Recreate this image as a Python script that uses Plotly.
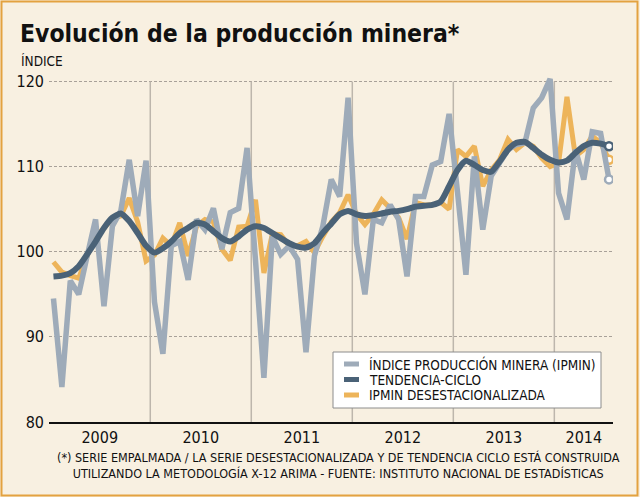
import plotly.graph_objects as go

# ---------------- data ----------------
years = ["2009", "2010", "2011", "2012", "2013", "2014"]
year_centers = [5.5, 17.5, 29.5, 41.5, 53.5, 63.0]      # month index at centre of each year's data
year_breaks = [11.5, 23.5, 35.5, 47.5, 59.5]
months = [f"{y}-{m:02d}" for y in range(2009, 2015) for m in range(1, 13)][:67]

ipmin = [94.5, 84.1, 96.6, 95.0, 99.5, 103.8, 93.6, 103.0, 104.8, 110.8, 104.2, 110.7,
         94.1, 88.0, 100.7, 101.2, 96.7, 103.8, 102.6, 105.1, 100.3, 104.6, 105.1, 112.2,
         99.0, 85.2, 101.8, 99.7, 100.7, 99.1, 88.2, 99.5, 103.0, 108.5, 106.5, 118.1,
         101.0, 95.0, 103.8, 103.4, 105.5, 103.8, 97.1, 106.5, 106.5, 110.2, 110.6, 116.2,
         107.0, 97.3, 111.2, 102.6, 108.9, 110.4, 112.0, 112.6, 112.8, 116.9, 118.1, 120.3,
         106.9, 103.8, 112.0, 108.5, 114.1, 113.9, 108.5]

tendencia = [97.1, 97.2, 97.5, 98.3, 99.7, 101.2, 102.8, 104.0, 104.5, 103.6, 102.2, 100.7,
             99.9, 100.4, 101.2, 102.2, 102.8, 103.4, 103.2, 102.4, 101.6, 101.2, 101.8, 102.6,
             103.0, 102.8, 102.2, 101.6, 101.0, 100.6, 100.5, 101.0, 102.2, 103.3, 104.4, 104.8,
             104.4, 104.2, 104.3, 104.5, 104.7, 104.8, 105.0, 105.3, 105.4, 105.5, 105.9, 107.7,
             109.6, 110.7, 110.2, 109.6, 109.4, 110.6, 112.0, 112.8, 112.9, 112.2, 111.4, 110.8,
             110.5, 110.7, 111.6, 112.4, 112.8, 112.7, 112.4]

desest = [98.8, 97.6, 97.2, 96.9, 99.5, 101.8, 102.8, 103.9, 104.2, 106.3, 103.5, 98.9,
          99.6, 101.6, 100.7, 103.4, 99.5, 103.0, 103.8, 103.5, 100.3, 99.0, 102.9, 103.0,
          106.1, 97.5, 102.1, 102.0, 100.7, 100.7, 101.2, 99.9, 101.8, 103.5, 104.6, 106.7,
          104.4, 103.2, 104.4, 106.1, 105.1, 104.0, 101.5, 105.8, 105.5, 105.5, 105.8, 105.0,
          112.0, 111.2, 112.4, 107.7, 109.6, 110.8, 113.2, 112.0, 112.8, 112.4, 111.0, 110.0,
          110.4, 118.2, 111.2, 112.0, 113.6, 112.8, 110.8]

names = ["ÍNDICE PRODUCCIÓN MINERA (IPMIN)", "TENDENCIA-CICLO", "IPMIN DESESTACIONALIZADA"]

# ---------------- style ----------------
BG = "#F8F0E1"
FRAME = "#E3A240"
C_GRAY = "#9EABB9"
C_DARK = "#4A6277"
C_ORANGE = "#EDB45A"
FONT = "DejaVu Sans Condensed, Tahoma, Verdana, sans-serif"

W, H = 640, 497
L, R, T, B = 49, 27, 73, 75
pw, ph = W - L - R, H - T - B


def xp(px):
    return (px - L) / pw


def yp(py):
    return (H - B - py) / ph


x = list(range(len(months)))

fig = go.Figure()

fig.add_trace(go.Scatter(x=x, y=desest, mode="lines", name=names[2],
                         line=dict(color=C_ORANGE, width=5), customdata=months,
                         showlegend=False))
fig.add_trace(go.Scatter(x=x[-1:], y=desest[-1:], mode="markers", showlegend=False,
                         marker=dict(size=8, color="white", line=dict(color=C_ORANGE, width=2.5))))
fig.add_trace(go.Scatter(x=x, y=ipmin, mode="lines", name=names[0],
                         line=dict(color=C_GRAY, width=5.5), customdata=months,
                         showlegend=False))
fig.add_trace(go.Scatter(x=x[-1:], y=ipmin[-1:], mode="markers", showlegend=False,
                         marker=dict(size=8, color="white", line=dict(color=C_GRAY, width=2.5))))
fig.add_trace(go.Scatter(x=x, y=tendencia, mode="lines", name=names[1],
                         line=dict(color=C_DARK, width=6, shape="spline", smoothing=0.6),
                         customdata=months, showlegend=False))
fig.add_trace(go.Scatter(x=x[-1:], y=tendencia[-1:], mode="markers", showlegend=False,
                         marker=dict(size=8, color="white", line=dict(color=C_DARK, width=2.5))))

shapes = []
# year separators
for xb in year_breaks:
    shapes.append(dict(type="line", xref="x", yref="y", x0=xb, x1=xb, y0=80, y1=120,
                       line=dict(color="#BDB6AC", width=1.5), layer="between"))
# outer frame
shapes.append(dict(type="rect", xref="paper", yref="paper",
                   x0=xp(1.5), x1=xp(637.5), y0=yp(495.5), y1=yp(1.5),
                   line=dict(color=FRAME, width=2), layer="below"))
# legend box
shapes.append(dict(type="rect", xref="paper", yref="paper",
                   x0=xp(333), x1=xp(601), y0=yp(408), y1=yp(352),
                   fillcolor="white", line=dict(color="#8C8C8C", width=1), layer="above"))
leg_rows = [364, 379.5, 395]
leg_cols = [C_GRAY, C_DARK, C_ORANGE]
annotations = []
for ry, col, nm in zip(leg_rows, leg_cols, names):
    shapes.append(dict(type="line", xref="paper", yref="paper",
                       x0=xp(344), x1=xp(359), y0=yp(ry), y1=yp(ry),
                       line=dict(color=col, width=5), layer="above"))
    annotations.append(dict(text=nm, xref="paper", yref="paper", x=xp(367), y=yp(ry),
                            xanchor="left", yanchor="middle", showarrow=False,
                            font=dict(family=FONT, size=13.5, color="#111")))

# title and subtitle
annotations.append(dict(text="<b>Evolución de la producción minera*</b>", xref="paper", yref="paper",
                        x=xp(18), y=yp(33), xanchor="left", yanchor="middle", showarrow=False,
                        font=dict(family=FONT, size=24.5, color="#111")))
annotations.append(dict(text="ÍNDICE", xref="paper", yref="paper",
                        x=xp(19), y=yp(61), xanchor="left", yanchor="middle", showarrow=False,
                        font=dict(family=FONT, size=13.5, color="#111")))
# footnote
annotations.append(dict(text="(*) SERIE EMPALMADA / LA SERIE DESESTACIONALIZADA Y DE TENDENCIA CICLO ESTÁ CONSTRUIDA<br>"
                             "UTILIZANDO LA METODOLOGÍA X-12 ARIMA - FUENTE: INSTITUTO NACIONAL DE ESTADÍSTICAS",
                        xref="paper", yref="paper", x=xp(338), y=yp(465), xanchor="center", yanchor="middle",
                        align="center", showarrow=False,
                        font=dict(family=FONT, size=12.5, color="#111")))

fig.update_layout(
    width=W, height=H,
    margin=dict(l=L, r=R, t=T, b=B, pad=0),
    paper_bgcolor=BG, plot_bgcolor=BG,
    showlegend=False,
    shapes=shapes, annotations=annotations,
    xaxis=dict(range=[-0.53, 66.47], tickmode="array", tickvals=year_centers, ticktext=years,
               ticks="", showgrid=False, zeroline=False, showline=True, linecolor="#111", linewidth=2,
               tickfont=dict(family=FONT, size=16, color="#111"), ticklabelstandoff=0),
    yaxis=dict(range=[80, 121], tickmode="array", tickvals=[80, 90, 100, 110, 120],
               ticks="", showgrid=True, gridcolor="#A8A199", griddash="3px,2px", gridwidth=1,
               zeroline=False, showline=False,
               tickfont=dict(family=FONT, size=16, color="#111"), ticklabelstandoff=4),
)

fig.write_html("out.html")
